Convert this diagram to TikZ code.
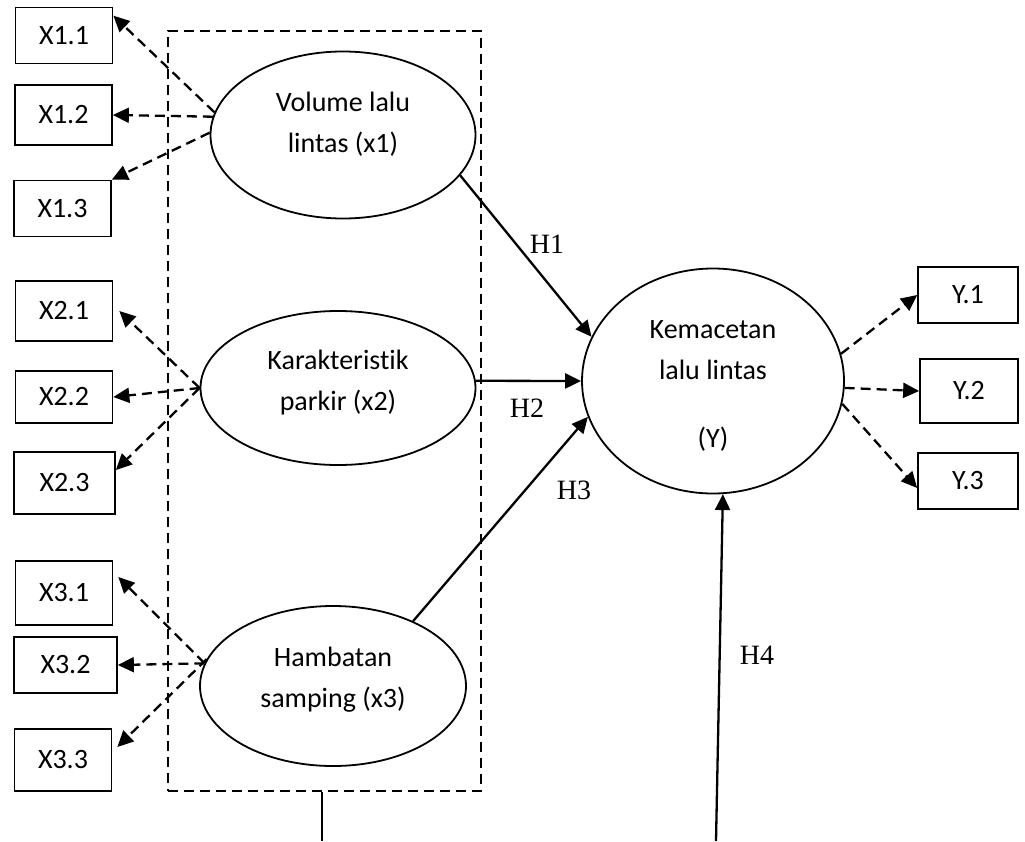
\documentclass[tikz,border=0pt]{standalone}
\usepackage{fontspec}
\setmainfont{Carlito}[Ligatures=CommonOff]
\newfontfamily\hfont{Liberation Serif}
\usetikzlibrary{shapes.geometric,arrows.meta}
\tikzset{
  indik/.style={draw, line width=1.7pt, minimum width=97pt, minimum height=56pt, inner sep=0pt, font=\fontsize{28}{34}\selectfont},
  latent/.style={draw, ellipse, line width=1.8pt, inner sep=0pt},
  lbl/.style={align=center, font=\fontsize{28}{41}\selectfont},
  loadarr/.style={line width=2.3pt, dash pattern=on 10pt off 6pt, -{Triangle[length=16pt,width=15pt]}},
  patharr/.style={line width=2.3pt, -{Triangle[length=16pt,width=15pt]}},
  hlab/.style={font=\hfont\fontsize{28}{34}\selectfont}
}
\begin{document}
\begin{tikzpicture}[x=1pt, y=-1pt]
        \useasboundingbox (0,0) rectangle (1025,841);

        % kotak variabel bebas
        \node[draw, line width=2.3pt, dash pattern=on 10pt off 6pt, minimum width=313pt, minimum height=760pt] (grp) at (324.5,411) {};

        \node[latent, minimum width=265pt, minimum height=167pt] (vol) at (343,135) {};
        \node[latent, minimum width=275pt, minimum height=154pt] (kar) at (338,388) {};
        \node[latent, minimum width=266pt, minimum height=160pt] (ham) at (333,686) {};
        \node[latent, minimum width=262pt, minimum height=225pt] (kem) at (713,381) {};
        \node[lbl] (vol-t) at (343,124) {Volume lalu\\lintas (x1)};
        \node[lbl] (kar-t) at (338,383) {Karakteristik\\parkir (x2)};
        \node[lbl] (ham-t) at (333,680) {Hambatan\\samping (x3)};
        \node[lbl] (kem-t) at (713,386) {Kemacetan\\lalu lintas\\[27pt](Y)};

        % indikator
        \node[indik] (x11) at (64,35.5) {X1.1};
        \node[indik, minimum height=60pt] (x12) at (63.5,115) {X1.2};
        \node[indik] (x13) at (62.5,208.5) {X1.3};
        \node[indik, minimum height=60pt] (x21) at (64,311) {X2.1};
        \node[indik, minimum height=52pt] (x22) at (64,397) {X2.2};
        \node[indik, minimum width=101pt, minimum height=62pt] (x23) at (64.5,483) {X2.3};
        \node[indik, minimum height=64pt] (x31) at (64,593) {X3.1};
        \node[indik, minimum width=103pt] (x32) at (65.5,665) {X3.2};
        \node[indik, minimum height=62pt] (x33) at (63,760) {X3.3};
        \node[indik, minimum width=100pt] (y1) at (968,295) {Y.1};
        \node[indik, minimum width=98pt, minimum height=64pt] (y2) at (969,391) {Y.2};
        \node[indik, minimum width=100pt] (y3) at (968,481) {Y.3};

        \draw[loadarr] (vol.170) -- ([yshift=-9pt]x11.north east);
        \draw[loadarr] (vol.172) -- (x12.east);
        \draw[loadarr] (vol.179) -- (x13.north east);
        \draw[loadarr] (kar.west) -- ([xshift=6pt]x21.east);
        \draw[loadarr] (kar.west) -- (x22.east);
        \draw[loadarr] (kar.west) -- ([yshift=13pt]x23.east);
        \draw[loadarr] (ham.170) -- ([xshift=5pt,yshift=16pt]x31.east);
        \draw[loadarr] (ham.170) -- (x32.east);
        \draw[loadarr] (ham.168) -- ([xshift=5pt,yshift=13pt]x33.east);
        \draw[loadarr] (kem.12) -- (y1.west);
        \draw[loadarr] (kem.-3) -- (y2.west);
        \draw[loadarr] (kem.-10) -- ([yshift=-7pt]y3.west);

        % hipotesis
        \coordinate (b1) at (322,841);
        \coordinate (b2) at (716,841);
        \draw[patharr] (vol.-19) -- (kem.160);
        \draw[patharr] (kar.3) -- (kem.west);
        \draw[patharr] (ham.39) -- (kem.196);
        \draw[patharr] (b2) -- (kem.275);
        \draw[line width=2.3pt] (b1 |- grp.south) -- (b1);

        \node[hlab] (h1) at (547,244) {H1};
        \node[hlab] (h2) at (527,408) {H2};
        \node[hlab] (h3) at (574,490) {H3};
        \node[hlab] (h4) at (757,655) {H4};
      \end{tikzpicture}
\end{document}
